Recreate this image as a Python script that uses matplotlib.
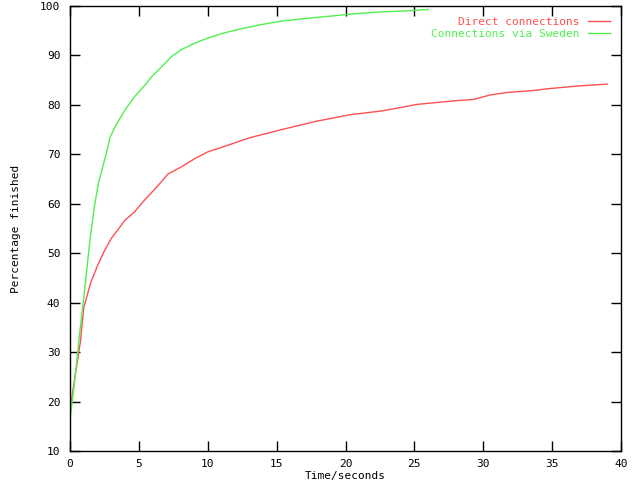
import matplotlib
matplotlib.use("Agg")
import matplotlib.pyplot as plt

# values
t_direct = [0, 0.25, 0.5, 0.75, 1.0, 1.5, 2.0, 2.5, 3.0, 4.0, 4.7, 5.3, 6.0, 6.65, 7.1, 8.1,
            9.1, 10.0, 11.1, 13.1, 15.5, 17.9, 20.3, 22.7, 25.2, 27.8, 29.3, 30.5, 31.7,
            33.6, 34.8, 36.8, 39.0]
direct = [18.0, 23.0, 27.5, 32.0, 39.0, 44.0, 47.5, 50.5, 53.0, 56.7, 58.4, 60.4, 62.5, 64.5,
          66.0, 67.5, 69.2, 70.5, 71.5, 73.4, 75.1, 76.7, 78.0, 78.8, 80.1, 80.8, 81.1, 82.0,
          82.5, 82.9, 83.3, 83.8, 84.2]

t_sweden = [0, 0.25, 0.5, 0.75, 1.0, 1.45, 1.77, 2.06, 2.7, 2.9, 3.27, 4.0, 4.7, 5.44, 5.93,
            6.65, 7.38, 8.1, 9.07, 10.0, 11.1, 12.3, 13.8, 15.5, 17.2, 19.1, 20.1, 22.5,
            24.4, 26.0]
sweden = [16.5, 22.0, 28.5, 35.0, 41.0, 52.7, 59.4, 64.1, 70.9, 73.4, 75.6, 79.0, 81.7, 84.0,
          85.7, 87.7, 89.8, 91.2, 92.5, 93.5, 94.5, 95.3, 96.2, 97.0, 97.5, 98.0, 98.3,
          98.8, 99.0, 99.3]

plt.rcParams["font.family"] = "DejaVu Sans Mono"
plt.rcParams["font.size"] = 8

fig = plt.figure(figsize=(6.4, 4.8), dpi=100)
ax = fig.add_axes([70 / 640, 29 / 480, 551 / 640, 445 / 480])

ax.plot(t_direct, direct, color="#ff5050", lw=1.0, label="Direct connections")
ax.plot(t_sweden, sweden, color="#50f050", lw=1.0, label="Connections via Sweden")

ax.set_xlim(0, 40)
ax.set_ylim(10, 100)
ax.set_xticks(range(0, 41, 5))
ax.set_yticks(range(10, 101, 10))
ax.tick_params(direction="in", length=7, width=1, top=True, right=True,
               labeltop=False, labelright=False)
ax.tick_params(axis="x", pad=6)
ax.tick_params(axis="y", pad=7)
for s in ax.spines.values():
    s.set_linewidth(1.0)

ax.set_xlabel("Time/seconds", labelpad=1)
ax.set_ylabel("Percentage finished", labelpad=14)

ax.legend(loc="upper right", frameon=False, markerfirst=False, labelcolor="linecolor",
          handlelength=2.0, handletextpad=0.7, labelspacing=0.15,
          borderaxespad=0.6, fontsize=8)

fig.savefig("out.png", dpi=100)
